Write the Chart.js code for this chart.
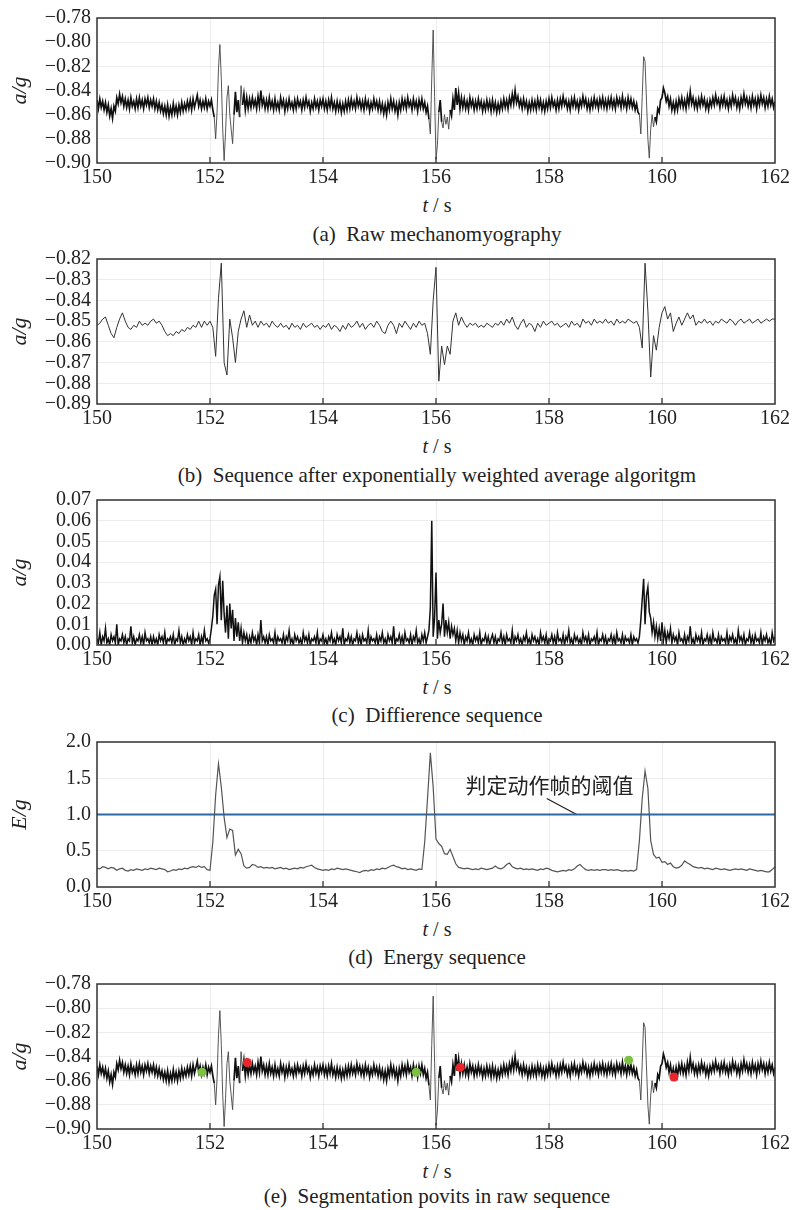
<!DOCTYPE html>
<html>
<head>
<meta charset="utf-8">
<script src="https://cdn.jsdelivr.net/npm/chart.js@4.4.1/dist/chart.umd.min.js"></script>
<style>
html,body{margin:0;padding:0;background:#fff;}
body{width:793px;height:1210px;position:relative;overflow:hidden;}
canvas{position:absolute;left:0;}
.lbl{position:absolute;left:97px;width:680px;text-align:center;font-family:"Liberation Serif","Times New Roman",serif;font-size:20px;color:#222;line-height:24px;white-space:pre;}
.cap{font-size:21px;}
</style>
</head>
<body>
<canvas id="ca" width="793" height="193" style="top:0px"></canvas>
<div class="lbl" style="top:193px"><i>t</i> / s</div>
<div class="lbl cap" style="top:222px">(a)  Raw mechanomyography</div>

<canvas id="cb" width="793" height="193" style="top:241px"></canvas>
<div class="lbl" style="top:434px"><i>t</i> / s</div>
<div class="lbl cap" style="top:463px">(b)  Sequence after exponentially weighted average algoritgm</div>

<canvas id="cc" width="793" height="193" style="top:482px"></canvas>
<div class="lbl" style="top:675px"><i>t</i> / s</div>
<div class="lbl cap" style="top:703px">(c)  Diffierence sequence</div>

<canvas id="cd" width="793" height="193" style="top:724px"></canvas>
<div class="lbl" style="top:917px"><i>t</i> / s</div>
<div class="lbl cap" style="top:945px">(d)  Energy sequence</div>

<canvas id="ce" width="793" height="193" style="top:966px"></canvas>
<div class="lbl" style="top:1159px"><i>t</i> / s</div>
<div class="lbl cap" style="top:1184px">(e)  Segmentation povits in raw sequence</div>

<script>
// ---------------- data ----------------
const T0 = 150;            // first sample time (s)
const DT_RAW = 0.025;      // step of raw / difference arrays (s)
const DT_SMOOTH = 0.05;    // step of smoothed / energy arrays (s)

const timeTicks = [150, 152, 154, 156, 158, 160, 162];
const rawTicks = [-0.90, -0.88, -0.86, -0.84, -0.82, -0.80, -0.78];
const smoothTicks = [-0.89, -0.88, -0.87, -0.86, -0.85, -0.84, -0.83, -0.82];
const diffTicks = [0.00, 0.01, 0.02, 0.03, 0.04, 0.05, 0.06, 0.07];
const energyTicks = [0.0, 0.5, 1.0, 1.5, 2.0];

// (a)/(e) raw acceleration a/g, 150.000 s .. 162.000 s
const rawAccel = [
// 150
-0.848,-0.855,-0.847,-0.854,-0.849,-0.856,-0.850,-0.858,-0.852,-0.861,
-0.855,-0.863,-0.853,-0.857,-0.846,-0.851,-0.843,-0.850,-0.845,-0.853,
-0.847,-0.854,-0.848,-0.855,-0.846,-0.853,-0.849,-0.855,-0.847,-0.854,
-0.846,-0.853,-0.848,-0.855,-0.847,-0.852,-0.846,-0.854,-0.848,-0.853,
// 151
-0.847,-0.855,-0.849,-0.856,-0.850,-0.857,-0.852,-0.859,-0.853,-0.860,
-0.852,-0.861,-0.854,-0.860,-0.851,-0.859,-0.853,-0.860,-0.852,-0.858,
-0.850,-0.857,-0.851,-0.856,-0.849,-0.855,-0.848,-0.856,-0.847,-0.854,
-0.849,-0.844,-0.853,-0.848,-0.855,-0.849,-0.854,-0.847,-0.855,-0.849,
// 152
-0.853,-0.848,-0.856,-0.862,-0.880,-0.858,-0.822,-0.802,-0.830,-0.872,
-0.898,-0.875,-0.846,-0.836,-0.860,-0.872,-0.884,-0.860,-0.841,-0.858,
-0.848,-0.862,-0.836,-0.852,-0.843,-0.856,-0.846,-0.855,-0.847,-0.854,
-0.846,-0.853,-0.848,-0.855,-0.845,-0.853,-0.840,-0.852,-0.847,-0.855,
// 153
-0.848,-0.855,-0.846,-0.854,-0.849,-0.856,-0.847,-0.855,-0.850,-0.856,
-0.846,-0.853,-0.848,-0.857,-0.849,-0.855,-0.847,-0.854,-0.850,-0.856,
-0.848,-0.855,-0.847,-0.853,-0.849,-0.856,-0.848,-0.854,-0.846,-0.853,
-0.849,-0.857,-0.850,-0.855,-0.847,-0.854,-0.849,-0.856,-0.848,-0.853,
// 154
-0.847,-0.855,-0.849,-0.856,-0.848,-0.854,-0.846,-0.855,-0.850,-0.857,
-0.849,-0.856,-0.850,-0.858,-0.851,-0.857,-0.849,-0.856,-0.848,-0.855,
-0.847,-0.854,-0.849,-0.855,-0.846,-0.853,-0.848,-0.855,-0.849,-0.856,
-0.847,-0.854,-0.849,-0.857,-0.850,-0.855,-0.847,-0.854,-0.849,-0.856,
// 155
-0.849,-0.857,-0.851,-0.859,-0.852,-0.860,-0.850,-0.856,-0.847,-0.855,
-0.849,-0.857,-0.851,-0.860,-0.850,-0.856,-0.847,-0.854,-0.848,-0.855,
-0.846,-0.853,-0.849,-0.856,-0.847,-0.854,-0.849,-0.857,-0.848,-0.854,
-0.847,-0.855,-0.850,-0.858,-0.853,-0.864,-0.876,-0.830,-0.790,-0.845,
// 156
-0.897,-0.885,-0.858,-0.848,-0.866,-0.871,-0.860,-0.868,-0.862,-0.872,
-0.856,-0.861,-0.847,-0.856,-0.838,-0.852,-0.842,-0.855,-0.846,-0.854,
-0.847,-0.855,-0.849,-0.856,-0.846,-0.853,-0.848,-0.856,-0.849,-0.855,
-0.847,-0.854,-0.849,-0.857,-0.850,-0.856,-0.848,-0.855,-0.849,-0.857,
// 157
-0.848,-0.856,-0.850,-0.858,-0.851,-0.857,-0.849,-0.855,-0.847,-0.854,
-0.848,-0.855,-0.846,-0.852,-0.843,-0.851,-0.840,-0.850,-0.845,-0.853,
-0.848,-0.855,-0.847,-0.854,-0.849,-0.857,-0.850,-0.856,-0.848,-0.855,
-0.849,-0.856,-0.847,-0.854,-0.848,-0.856,-0.850,-0.857,-0.849,-0.855,
// 158
-0.847,-0.854,-0.846,-0.853,-0.849,-0.856,-0.848,-0.855,-0.847,-0.853,
-0.845,-0.852,-0.848,-0.855,-0.849,-0.856,-0.847,-0.853,-0.846,-0.854,
-0.849,-0.856,-0.848,-0.853,-0.845,-0.852,-0.847,-0.855,-0.849,-0.856,
-0.848,-0.854,-0.846,-0.853,-0.848,-0.855,-0.847,-0.853,-0.846,-0.854,
// 159
-0.848,-0.855,-0.847,-0.853,-0.846,-0.854,-0.848,-0.855,-0.846,-0.852,
-0.847,-0.854,-0.845,-0.853,-0.848,-0.855,-0.846,-0.853,-0.847,-0.854,
-0.849,-0.856,-0.851,-0.858,-0.860,-0.876,-0.845,-0.812,-0.816,-0.848,
-0.880,-0.896,-0.872,-0.860,-0.870,-0.862,-0.866,-0.855,-0.858,-0.848,
// 160
-0.846,-0.838,-0.842,-0.849,-0.845,-0.853,-0.847,-0.856,-0.850,-0.857,
-0.849,-0.856,-0.847,-0.853,-0.846,-0.854,-0.848,-0.855,-0.845,-0.852,
-0.841,-0.851,-0.846,-0.854,-0.848,-0.855,-0.847,-0.853,-0.845,-0.852,
-0.847,-0.855,-0.849,-0.856,-0.848,-0.853,-0.846,-0.852,-0.844,-0.851,
// 161 .. 162
-0.847,-0.854,-0.846,-0.852,-0.845,-0.853,-0.848,-0.855,-0.847,-0.853,
-0.844,-0.851,-0.846,-0.854,-0.848,-0.855,-0.846,-0.852,-0.843,-0.851,
-0.846,-0.853,-0.847,-0.854,-0.845,-0.852,-0.847,-0.855,-0.846,-0.852,
-0.844,-0.851,-0.846,-0.854,-0.847,-0.853,-0.845,-0.852,-0.847,-0.854,
-0.849
];

// (b) exponentially weighted average a/g, 150.00 s .. 162.00 s
const smoothAccel = [
-0.852,-0.851,-0.849,-0.848,-0.852,-0.856,-0.858,-0.853,-0.849,-0.846,-0.850,-0.853,-0.854,-0.852,-0.853,-0.850,-0.852,-0.851,-0.852,-0.850,
-0.849,-0.851,-0.850,-0.852,-0.855,-0.857,-0.856,-0.857,-0.855,-0.856,-0.854,-0.855,-0.853,-0.854,-0.852,-0.853,-0.850,-0.853,-0.850,-0.852,
-0.850,-0.853,-0.867,-0.839,-0.822,-0.870,-0.876,-0.849,-0.858,-0.870,-0.855,-0.849,-0.845,-0.853,-0.847,-0.852,-0.850,-0.853,-0.850,-0.852,
-0.851,-0.853,-0.850,-0.852,-0.853,-0.851,-0.853,-0.852,-0.854,-0.851,-0.853,-0.852,-0.854,-0.851,-0.853,-0.852,-0.851,-0.853,-0.852,-0.854,
-0.852,-0.853,-0.851,-0.854,-0.852,-0.853,-0.855,-0.852,-0.854,-0.851,-0.853,-0.852,-0.850,-0.853,-0.851,-0.854,-0.852,-0.851,-0.853,-0.850,
-0.852,-0.855,-0.856,-0.852,-0.850,-0.852,-0.856,-0.851,-0.853,-0.850,-0.852,-0.854,-0.851,-0.853,-0.850,-0.852,-0.851,-0.856,-0.866,-0.840,
-0.824,-0.879,-0.862,-0.871,-0.862,-0.866,-0.850,-0.846,-0.852,-0.848,-0.851,-0.853,-0.851,-0.852,-0.851,-0.853,-0.852,-0.853,-0.851,-0.852,
-0.853,-0.851,-0.852,-0.850,-0.852,-0.849,-0.851,-0.848,-0.852,-0.854,-0.851,-0.849,-0.853,-0.851,-0.852,-0.855,-0.851,-0.853,-0.850,-0.852,
-0.851,-0.850,-0.852,-0.851,-0.853,-0.852,-0.851,-0.853,-0.850,-0.852,-0.851,-0.853,-0.849,-0.851,-0.850,-0.852,-0.849,-0.851,-0.850,-0.851,
-0.849,-0.851,-0.850,-0.852,-0.849,-0.851,-0.850,-0.851,-0.849,-0.850,-0.851,-0.850,-0.853,-0.863,-0.822,-0.845,-0.877,-0.857,-0.864,-0.853,
-0.846,-0.843,-0.849,-0.846,-0.855,-0.851,-0.848,-0.852,-0.849,-0.846,-0.849,-0.847,-0.852,-0.850,-0.851,-0.849,-0.851,-0.850,-0.852,-0.850,
-0.851,-0.849,-0.850,-0.851,-0.849,-0.850,-0.852,-0.850,-0.849,-0.851,-0.850,-0.849,-0.851,-0.850,-0.849,-0.851,-0.850,-0.849,-0.850,-0.849,-0.849
];

// (c) difference sequence a/g, 150.000 s .. 162.000 s
const diffAccel = [
0.003,0.001,0.006,0.000,0.004,0.002,0.008,0.001,0.003,0.000,0.005,0.002,0.004,0.001,0.010,0.000,0.003,0.002,0.005,0.001,
0.004,0.000,0.003,0.002,0.009,0.001,0.004,0.000,0.003,0.002,0.005,0.001,0.004,0.000,0.006,0.002,0.003,0.001,0.004,0.000,
0.004,0.001,0.003,0.000,0.005,0.002,0.004,0.001,0.006,0.000,0.003,0.002,0.004,0.001,0.005,0.000,0.003,0.002,0.007,0.001,
0.004,0.000,0.003,0.001,0.005,0.002,0.004,0.000,0.006,0.001,0.003,0.002,0.005,0.000,0.004,0.001,0.007,0.002,0.003,0.001,
0.003,0.008,0.014,0.024,0.027,0.010,0.029,0.033,0.012,0.031,0.015,0.006,0.019,0.003,0.020,0.008,0.017,0.002,0.013,0.004,
0.011,0.002,0.008,0.001,0.006,0.002,0.005,0.000,0.004,0.001,0.006,0.002,0.004,0.000,0.005,0.001,0.012,0.002,0.004,0.001,
0.004,0.000,0.005,0.002,0.003,0.001,0.006,0.000,0.004,0.002,0.003,0.001,0.005,0.000,0.004,0.002,0.007,0.001,0.003,0.000,
0.005,0.002,0.004,0.001,0.003,0.000,0.006,0.002,0.004,0.001,0.005,0.000,0.003,0.002,0.004,0.001,0.006,0.000,0.003,0.002,
0.005,0.001,0.003,0.000,0.004,0.002,0.006,0.001,0.003,0.000,0.005,0.002,0.004,0.001,0.008,0.000,0.003,0.002,0.005,0.001,
0.004,0.000,0.003,0.002,0.006,0.001,0.004,0.000,0.005,0.002,0.003,0.001,0.007,0.000,0.004,0.002,0.003,0.001,0.005,0.000,
0.004,0.002,0.006,0.001,0.003,0.000,0.005,0.002,0.004,0.001,0.009,0.000,0.003,0.002,0.005,0.001,0.004,0.000,0.006,0.002,
0.003,0.001,0.005,0.000,0.004,0.002,0.007,0.001,0.003,0.000,0.005,0.002,0.006,0.001,0.004,0.007,0.018,0.060,0.004,0.013,
0.035,0.003,0.012,0.006,0.010,0.020,0.004,0.012,0.006,0.011,0.003,0.009,0.005,0.008,0.002,0.007,0.001,0.006,0.002,0.005,
0.000,0.004,0.002,0.006,0.001,0.003,0.000,0.005,0.002,0.004,0.001,0.006,0.000,0.003,0.002,0.005,0.001,0.004,0.000,0.003,
0.005,0.001,0.004,0.000,0.003,0.002,0.006,0.001,0.004,0.000,0.005,0.002,0.003,0.001,0.007,0.000,0.004,0.002,0.005,0.001,
0.003,0.000,0.004,0.002,0.006,0.001,0.003,0.000,0.005,0.002,0.004,0.001,0.003,0.000,0.006,0.002,0.004,0.001,0.005,0.000,
0.003,0.002,0.005,0.001,0.004,0.000,0.006,0.002,0.003,0.001,0.005,0.000,0.004,0.002,0.007,0.001,0.003,0.000,0.005,0.002,
0.004,0.001,0.003,0.000,0.006,0.002,0.004,0.001,0.005,0.000,0.003,0.002,0.004,0.001,0.006,0.000,0.003,0.002,0.005,0.001,
0.004,0.000,0.003,0.002,0.005,0.001,0.004,0.000,0.006,0.002,0.003,0.001,0.005,0.000,0.004,0.002,0.003,0.001,0.005,0.000,
0.004,0.002,0.003,0.001,0.004,0.012,0.022,0.032,0.010,0.024,0.028,0.016,0.013,0.006,0.011,0.004,0.009,0.003,0.008,0.002,
0.011,0.002,0.007,0.001,0.006,0.003,0.008,0.001,0.005,0.002,0.004,0.000,0.006,0.002,0.003,0.001,0.005,0.000,0.004,0.002,
0.009,0.001,0.003,0.000,0.005,0.002,0.004,0.001,0.006,0.000,0.003,0.002,0.005,0.001,0.004,0.000,0.006,0.002,0.003,0.001,
0.005,0.000,0.004,0.002,0.003,0.001,0.006,0.000,0.004,0.002,0.005,0.001,0.003,0.000,0.007,0.002,0.004,0.001,0.005,0.000,
0.003,0.002,0.006,0.001,0.004,0.000,0.005,0.002,0.003,0.001,0.006,0.000,0.004,0.002,0.005,0.001,0.003,0.000,0.006,0.002,
0.004
];

// (d) energy sequence E/g, 150.00 s .. 162.00 s
const energy = [
0.26,0.25,0.28,0.27,0.25,0.27,0.26,0.23,0.25,0.26,0.23,0.22,0.24,0.23,0.25,0.24,0.23,0.25,0.24,0.26,
0.25,0.24,0.26,0.25,0.24,0.21,0.22,0.24,0.23,0.25,0.24,0.26,0.25,0.27,0.28,0.27,0.29,0.27,0.28,0.24,
0.23,0.62,1.27,1.70,1.38,0.96,0.68,0.80,0.78,0.44,0.52,0.46,0.29,0.26,0.27,0.31,0.30,0.27,0.28,0.26,
0.27,0.26,0.27,0.25,0.26,0.27,0.25,0.26,0.24,0.25,0.26,0.25,0.27,0.26,0.28,0.29,0.30,0.27,0.25,0.24,
0.23,0.24,0.23,0.25,0.24,0.26,0.25,0.24,0.25,0.24,0.23,0.22,0.21,0.20,0.22,0.23,0.22,0.24,0.23,0.25,
0.24,0.26,0.25,0.27,0.29,0.30,0.28,0.27,0.25,0.26,0.24,0.25,0.24,0.23,0.25,0.24,0.62,1.22,1.85,1.38,
0.66,0.60,0.56,0.46,0.45,0.52,0.42,0.32,0.27,0.26,0.25,0.26,0.25,0.24,0.25,0.24,0.26,0.25,0.24,0.25,
0.26,0.29,0.26,0.25,0.27,0.31,0.33,0.28,0.26,0.25,0.26,0.24,0.25,0.24,0.25,0.24,0.23,0.25,0.24,0.26,
0.25,0.23,0.22,0.21,0.22,0.23,0.22,0.24,0.23,0.25,0.29,0.31,0.27,0.24,0.23,0.24,0.23,0.24,0.23,0.24,
0.24,0.23,0.24,0.23,0.24,0.23,0.22,0.23,0.22,0.23,0.22,0.24,0.64,1.22,1.60,1.36,0.64,0.45,0.40,0.41,
0.34,0.35,0.31,0.33,0.28,0.26,0.27,0.30,0.36,0.33,0.31,0.28,0.27,0.26,0.27,0.25,0.26,0.25,0.24,0.26,
0.25,0.24,0.25,0.24,0.23,0.24,0.25,0.24,0.25,0.24,0.23,0.25,0.24,0.23,0.22,0.23,0.22,0.21,0.21,0.24,0.28
];

const thresholdValue = 1.0;
const thresholdNote = { text: '判定动作帧的阈值', t: 158.01, e: 1.40 };
const leaderT = [157.96, 158.49];
const leaderE = [1.22, 1.00];

// (e) segmentation points
const startT = [151.86, 155.65, 159.41];
const startA = [-0.853, -0.853, -0.843];
const endT = [152.66, 156.43, 160.21];
const endA = [-0.845, -0.849, -0.857];

// ---------------- drawing ----------------
const SERIF = '"Liberation Serif", "Times New Roman", serif';
const INK = '#222';

const toPts = (vals, dt) => vals.map((v, i) => ({ x: T0 + i * dt, y: v }));
const zipPts = (xs, ys) => xs.map((x, i) => ({ x: x, y: ys[i] }));
const fmt = d => v => { const s = Number(v).toFixed(d); return s.replace('-', '\u2212'); };

const framePlugin = {
  id: 'frame',
  afterDatasetsDraw(chart) {
    const { ctx, chartArea: a, scales } = chart;
    ctx.save();
    ctx.strokeStyle = '#333';
    ctx.lineWidth = 1.5;
    ctx.strokeRect(a.left, a.top, a.right - a.left, a.bottom - a.top);
    ctx.lineWidth = 1.3;
    ctx.beginPath();
    scales.x.ticks.forEach(t => {
      const px = scales.x.getPixelForValue(t.value);
      if (px > a.left + 2 && px < a.right - 2) { ctx.moveTo(px, a.bottom); ctx.lineTo(px, a.bottom - 6); }
    });
    ctx.stroke();
    ctx.restore();
  }
};

const notePlugin = {
  id: 'note',
  afterDatasetsDraw(chart) {
    if (!chart.options.plugins.note || !chart.options.plugins.note.show) return;
    const { ctx, scales: { x, y } } = chart;
    ctx.save();
    ctx.font = '21px "Noto Sans CJK SC", sans-serif';
    ctx.fillStyle = INK;
    ctx.textAlign = 'center';
    ctx.textBaseline = 'middle';
    ctx.fillText(thresholdNote.text, x.getPixelForValue(thresholdNote.t), y.getPixelForValue(thresholdNote.e));
    ctx.restore();
  }
};

function options(yTicks, digits, yTitle, showNote) {
  return {
    responsive: false,
    animation: false,
    events: [],
    layout: { padding: { left: 0, right: 16, top: 13, bottom: 0 } },
    plugins: { legend: { display: false }, tooltip: { enabled: false }, note: { show: !!showNote } },
    elements: { point: { radius: 0 }, line: { tension: 0 } },
    scales: {
      x: {
        type: 'linear', min: timeTicks[0], max: timeTicks[timeTicks.length - 1],
        afterBuildTicks: s => { s.ticks = timeTicks.map(v => ({ value: v })); },
        afterFit: s => { s.height = 30; },
        grid: { color: 'rgba(0,0,0,0.07)', drawTicks: false },
        border: { display: false },
        ticks: { padding: 3, autoSkip: false, maxRotation: 0, color: INK, font: { family: SERIF, size: 20 }, callback: v => String(v) }
      },
      y: {
        type: 'linear', min: yTicks[0], max: yTicks[yTicks.length - 1],
        afterBuildTicks: s => { s.ticks = yTicks.map(v => ({ value: v })); },
        afterFit: s => { s.width = 97; },
        grid: { color: 'rgba(0,0,0,0.07)', drawTicks: false },
        border: { display: false },
        ticks: { padding: 6, autoSkip: false, color: INK, font: { family: SERIF, size: 20 }, callback: fmt(digits) },
        title: { display: true, text: yTitle, color: INK, font: { family: SERIF, size: 22, style: 'italic' }, padding: { top: 7, bottom: 0 } }
      }
    }
  };
}

const lineDs = (data, color, width) => ({ data: data, borderColor: color, borderWidth: width, pointRadius: 0, fill: false, tension: 0 });

// raw trace: dense noise band drawn heavier, the large burst strokes thinner and greyer
const rawBandLow = -0.866, rawBandHigh = -0.837;
const isBurst = c => {
  const a = c.p0.parsed.y, b = c.p1.parsed.y;
  return a < rawBandLow || a > rawBandHigh || b < rawBandLow || b > rawBandHigh;
};
const rawDs = () => Object.assign(lineDs(toPts(rawAccel, DT_RAW), '#111', 1.7), {
  order: 2,
  segment: {
    borderWidth: c => isBurst(c) ? 0.9 : undefined,
    borderColor: c => isBurst(c) ? '#444' : undefined
  }
});

const plugins = [framePlugin, notePlugin];

new Chart(document.getElementById('ca'), {
  type: 'line',
  data: { datasets: [rawDs()] },
  options: options(rawTicks, 2, 'a/g'),
  plugins: plugins
});

new Chart(document.getElementById('cb'), {
  type: 'line',
  data: { datasets: [lineDs(toPts(smoothAccel, DT_SMOOTH), '#333', 1)] },
  options: options(smoothTicks, 2, 'a/g'),
  plugins: plugins
});

new Chart(document.getElementById('cc'), {
  type: 'line',
  data: { datasets: [lineDs(toPts(diffAccel, DT_RAW), '#111', 1.5)] },
  options: options(diffTicks, 2, 'a/g'),
  plugins: plugins
});

new Chart(document.getElementById('cd'), {
  type: 'line',
  data: { datasets: [
    lineDs(toPts(energy, DT_SMOOTH), '#555', 1.2),
    lineDs(zipPts([timeTicks[0], timeTicks[timeTicks.length - 1]], [thresholdValue, thresholdValue]), '#2a68a6', 2),
    lineDs(zipPts(leaderT, leaderE), '#222', 1.3)
  ] },
  options: options(energyTicks, 1, 'E/g', true),
  plugins: plugins
});

new Chart(document.getElementById('ce'), {
  type: 'line',
  data: { datasets: [
    rawDs(),
    { data: zipPts(startT, startA), order: 0, showLine: false, pointRadius: 4.5, pointBackgroundColor: '#7dc142', pointBorderWidth: 0, borderColor: '#7dc142' },
    { data: zipPts(endT, endA), order: 0, showLine: false, pointRadius: 4.5, pointBackgroundColor: '#e8262b', pointBorderWidth: 0, borderColor: '#e8262b' }
  ] },
  options: options(rawTicks, 2, 'a/g'),
  plugins: plugins
});
</script>
</body>
</html>
